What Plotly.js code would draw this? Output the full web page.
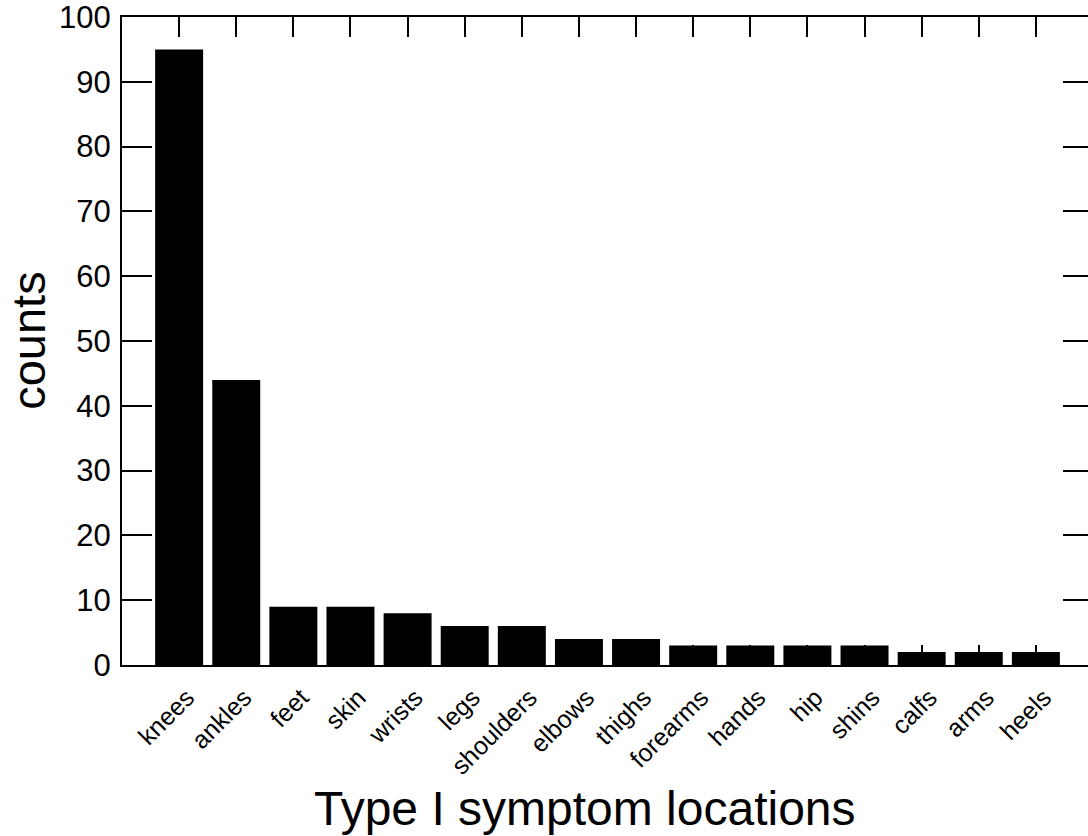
<!DOCTYPE html>
<html>
<head>
<meta charset="utf-8">
<script src="https://cdn.plot.ly/plotly-3.0.1.min.js"></script>
<style>
html,body{margin:0;padding:0;background:#fff;overflow:hidden;}
#chart{width:1100px;height:836px;}
</style>
</head>
<body>
<div id="chart"></div>
<script>
const categories = ["knees","ankles","feet","skin","wrists","legs","shoulders","elbows","thighs","forearms","hands","hip","shins","calfs","arms","heels"];
const counts = [95,44,9,9,8,6,6,4,4,3,3,3,3,2,2,2];
const yTickValues = [0,10,20,30,40,50,60,70,80,90,100];
const xTitle = "Type I symptom locations";
const yTitle = "counts";

const FONT = "Liberation Sans, Arial, sans-serif";

const trace = {
  type: "bar",
  x: categories.map((c,i)=>i),
  y: counts,
  width: 0.84,
  marker: {color: "#000000", line: {width: 0}},
  hoverinfo: "x+y"
};

const layout = {
  width: 1100,
  height: 836,
  margin: {l: 122, r: 7, t: 17, b: 171},
  paper_bgcolor: "#ffffff",
  plot_bgcolor: "#ffffff",
  showlegend: false,
  font: {family: FONT, color: "#000"},
  xaxis: {
    range: [-1, 16],
    tickmode: "array",
    tickvals: categories.map((c,i)=>i),
    ticktext: categories,
    tickangle: -45,
    ticks: "inside",
    ticklen: 20,
    tickwidth: 2,
    tickcolor: "#000",
    ticklabelstandoff: 6,
    ticklabelshift: 8,
    showline: true,
    linewidth: 2,
    linecolor: "#000",
    mirror: "ticks",
    showgrid: false,
    zeroline: false,
    tickfont: {family: FONT, size: 25, color: "#000"},
    fixedrange: true
  },
  yaxis: {
    range: [0, 100],
    tickmode: "array",
    tickvals: yTickValues,
    ticktext: yTickValues.map(String),
    ticks: "inside",
    ticklen: 30,
    tickwidth: 2,
    tickcolor: "#000",
    ticklabelstandoff: 3,
    ticklabeloverflow: "allow",
    showline: true,
    linewidth: 2,
    linecolor: "#000",
    mirror: "ticks",
    showgrid: false,
    zeroline: false,
    tickfont: {family: FONT, size: 31, color: "#000"},
    fixedrange: true
  },
  annotations: [
    {
      text: xTitle,
      xref: "paper", yref: "paper",
      x: 0.477, y: -0.222,
      xanchor: "center", yanchor: "middle",
      showarrow: false,
      font: {family: FONT, size: 48, color: "#000"}
    },
    {
      text: yTitle,
      xref: "paper", yref: "paper",
      x: -0.097, y: 0.5,
      xanchor: "center", yanchor: "middle",
      textangle: -90,
      showarrow: false,
      font: {family: FONT, size: 47, color: "#000"}
    }
  ]
};

Plotly.newPlot("chart", [trace], layout, {displayModeBar: false, staticPlot: true});
</script>
</body>
</html>
